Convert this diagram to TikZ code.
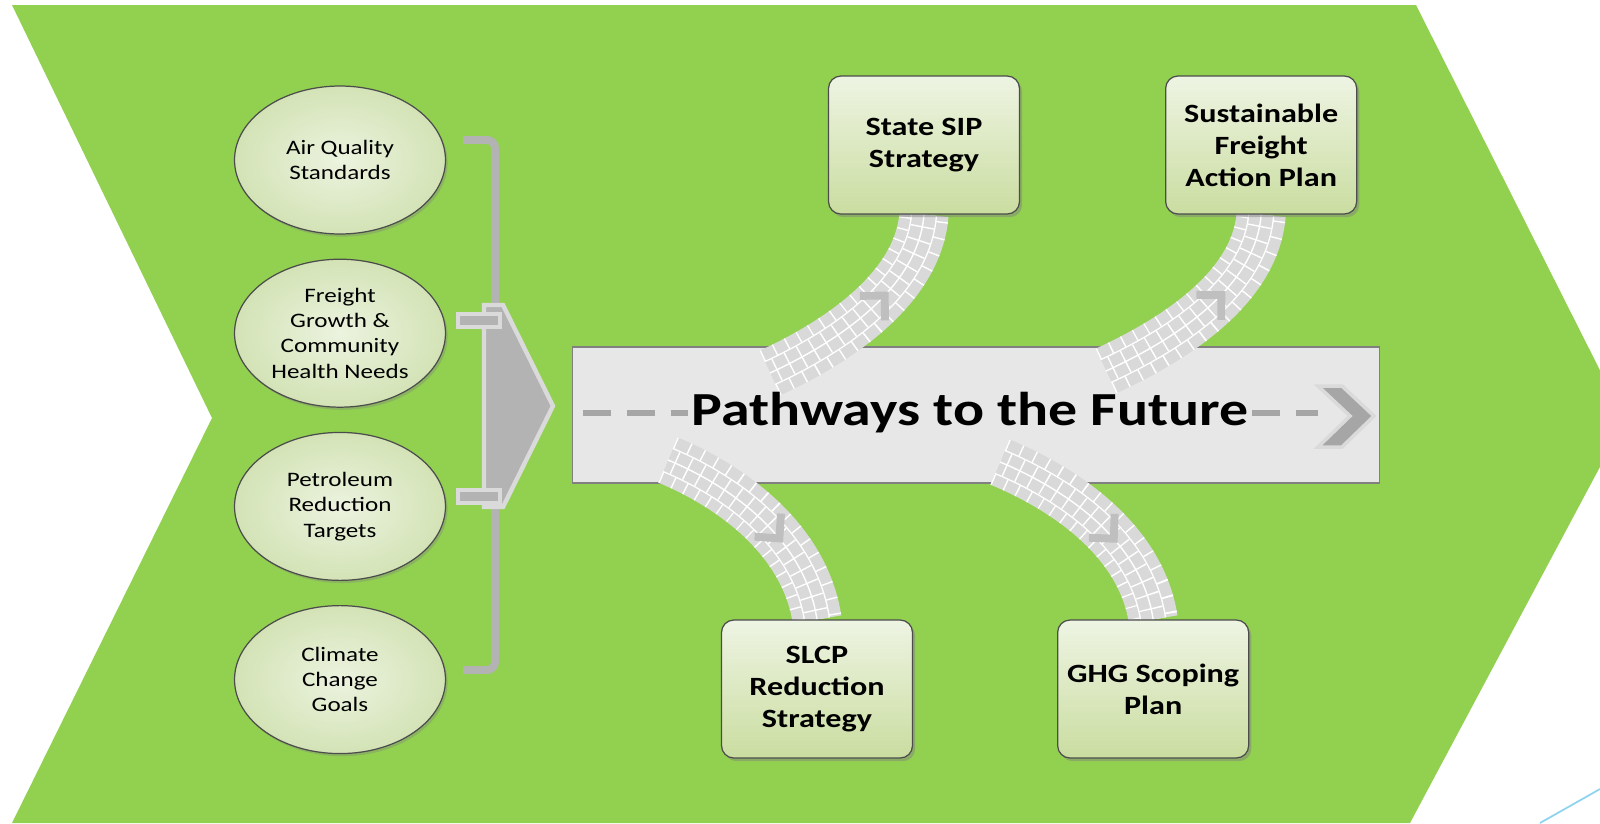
\documentclass[tikz,border=0pt]{standalone}
\usepackage{fontspec}
\setmainfont{Carlito}[FakeStretch=1.22]
\usetikzlibrary{positioning, shapes.geometric, shadows, decorations.markings, calc}

\definecolor{chevgreen}{HTML}{92D050}
\definecolor{goalin}{HTML}{ECF3DF}
\definecolor{goalout}{HTML}{D3E3B6}
\definecolor{plantop}{HTML}{EEF4E3}
\definecolor{planbot}{HTML}{CADDA0}
\definecolor{brkgray}{HTML}{B3B3B3}
\definecolor{brklight}{HTML}{DADADA}
\definecolor{bandgray}{HTML}{E7E7E7}
\definecolor{brick}{HTML}{D9D9D9}
\definecolor{dashgray}{HTML}{A6A6A6}
\definecolor{skyline}{HTML}{8FD3F0}

\pgfdeclarelayer{bg}
\pgfdeclarelayer{roads}
\pgfsetlayers{bg,roads,main}

\begin{document}
\begin{tikzpicture}[
  x=0.02cm, y=-0.02cm,
  align=center,
  % node styles
  goal/.style={draw=black!70, line width=0.7pt, ellipse, inner sep=0pt,
    minimum width=4.22cm, minimum height=2.96cm, inner color=goalin, outer color=goalout,
    font=\fontsize{11.7}{14.4}\selectfont,
    drop shadow={shadow xshift=1.2pt, shadow yshift=-1.5pt, opacity=0.35}},
  plan/.style={draw=black!70, line width=0.7pt, rounded corners=7pt,
    minimum width=3.82cm, minimum height=2.76cm, top color=plantop, bottom color=planbot,
    font=\fontsize{15}{18.2}\selectfont\bfseries,
    drop shadow={shadow xshift=1.5pt, shadow yshift=-1.8pt, opacity=0.45}},
  band/.style={draw=black!50, line width=0.6pt, fill=bandgray, minimum width=16.14cm, minimum height=2.72cm},
  title/.style={inner sep=2pt, font=\fontsize{27}{31}\selectfont\bfseries},
  % line styles
  brkt/.style={draw=brkgray, line width=4.5pt},
  brkpart/.style={fill=brkgray, draw=brklight, line width=2.5pt, line join=miter},
  dashln/.style={draw=dashgray, line width=3.6pt, dash pattern=on 16pt off 9pt},
  arrowhd/.style={fill=dashgray, draw=brklight, line width=2pt, line join=miter},
  roadarrow/.style={draw=black!25, line width=4.5pt, line join=miter},
  road/.style={draw=brick, line width=28pt,
    postaction={draw=white, line width=28pt, dash pattern=on 0.8pt off 7.2pt},
    postaction={draw=white, line width=15pt},
    postaction={draw=brick, line width=13.4pt},
    postaction={draw=white, line width=13.4pt, dash pattern=on 0.8pt off 7.2pt, dash phase=4pt},
    postaction={draw=white, line width=0.8pt},
    postaction={decorate, decoration={markings, mark=at position 0.58 with
      {\draw[roadarrow] (-7pt,10pt) -- (3pt,0pt) -- (-7pt,-10pt);}}}}
]

  \useasboundingbox (0,0) rectangle (1600,823);
  \clip (0,0) rectangle (1600,823);

  % ==========================================
  % BACKGROUND CHEVRON, GOALS AND PATHWAY
  % ==========================================
  \begin{pgfonlayer}{bg}
    \fill[chevgreen] (12,5) -- (1416,5) -- (1625,420) -- (1410,823) -- (12,823) -- (212,418) -- cycle;
    \draw[skyline, line width=1pt] (1540,823) -- (1600,789);

    \node[goal] (aq) at (340,160) {Air Quality\\Standards};
    \node[goal, below=0.48cm of aq] (fg) {Freight\\Growth \&\\Community\\Health Needs};
    \node[goal, below=0.48cm of fg] (pr) {Petroleum\\Reduction\\Targets};
    \node[goal, below=0.48cm of pr] (cc) {Climate\\Change\\Goals};

    % Bracket
    \draw[brkt] (463,140) -- (487,140) to[out=0,in=90] (495,148) -- (495,662) to[out=-90,in=0] (487,670) -- (463,670);
    \filldraw[brkpart] (484,305) -- (503,305) -- (553,406) -- (503,507) -- (484,507) -- cycle;
    \filldraw[brkpart] (458,314) rectangle (500,327);
    \filldraw[brkpart] (458,490) rectangle (500,503);

    \node[band] (pathway) at (976,415) {};
  \end{pgfonlayer}

  % ==========================================
  % PLANS
  % ==========================================
  \node[plan] (sip) at (924,145) {State SIP\\Strategy};
  \node[plan, right=2.9cm of sip] (sfap) {Sustainable\\Freight\\Action Plan};
  \node[plan] (slcp) at (817,689) {SLCP\\Reduction\\Strategy};
  \node[plan, right=2.88cm of slcp] (ghg) {GHG Scoping\\Plan};

  % Roads from the pathway to the plans
  \coordinate (r1) at (770,373);
  \coordinate (r2) at (1106,371);
  \coordinate (r3) at (668,460);
  \coordinate (r4) at (1000,462);

  \begin{pgfonlayer}{roads}
    \draw[road] (r1) .. controls +(65,-30) and +(-6,75) .. (sip.south);
    \draw[road] (r2) .. controls +(65,-30) and +(-6,75) .. (sfap.south);
    \draw[road] (r3) .. controls +(67,28) and +(-12,-78) .. (slcp.north);
    \draw[road] (r4) .. controls +(67,28) and +(-12,-78) .. (ghg.north);
  \end{pgfonlayer}

  % Title with dashed arrow
  \node[title] (ttl) at (970,413) {Pathways to the Future};
  \coordinate (dstart) at (583,413);
  \coordinate (tip) at (1318,413);
  \draw[dashln] (dstart) -- (ttl.west);
  \draw[dashln] (ttl.east) -- (tip);
  \filldraw[arrowhd] ($(tip)+(0,-27)$) -- ++(24,0) -- ++(32,30) -- ++(-32,31) -- ++(-24,0) -- ++(32,-31) -- cycle;

\end{tikzpicture}
\end{document}
